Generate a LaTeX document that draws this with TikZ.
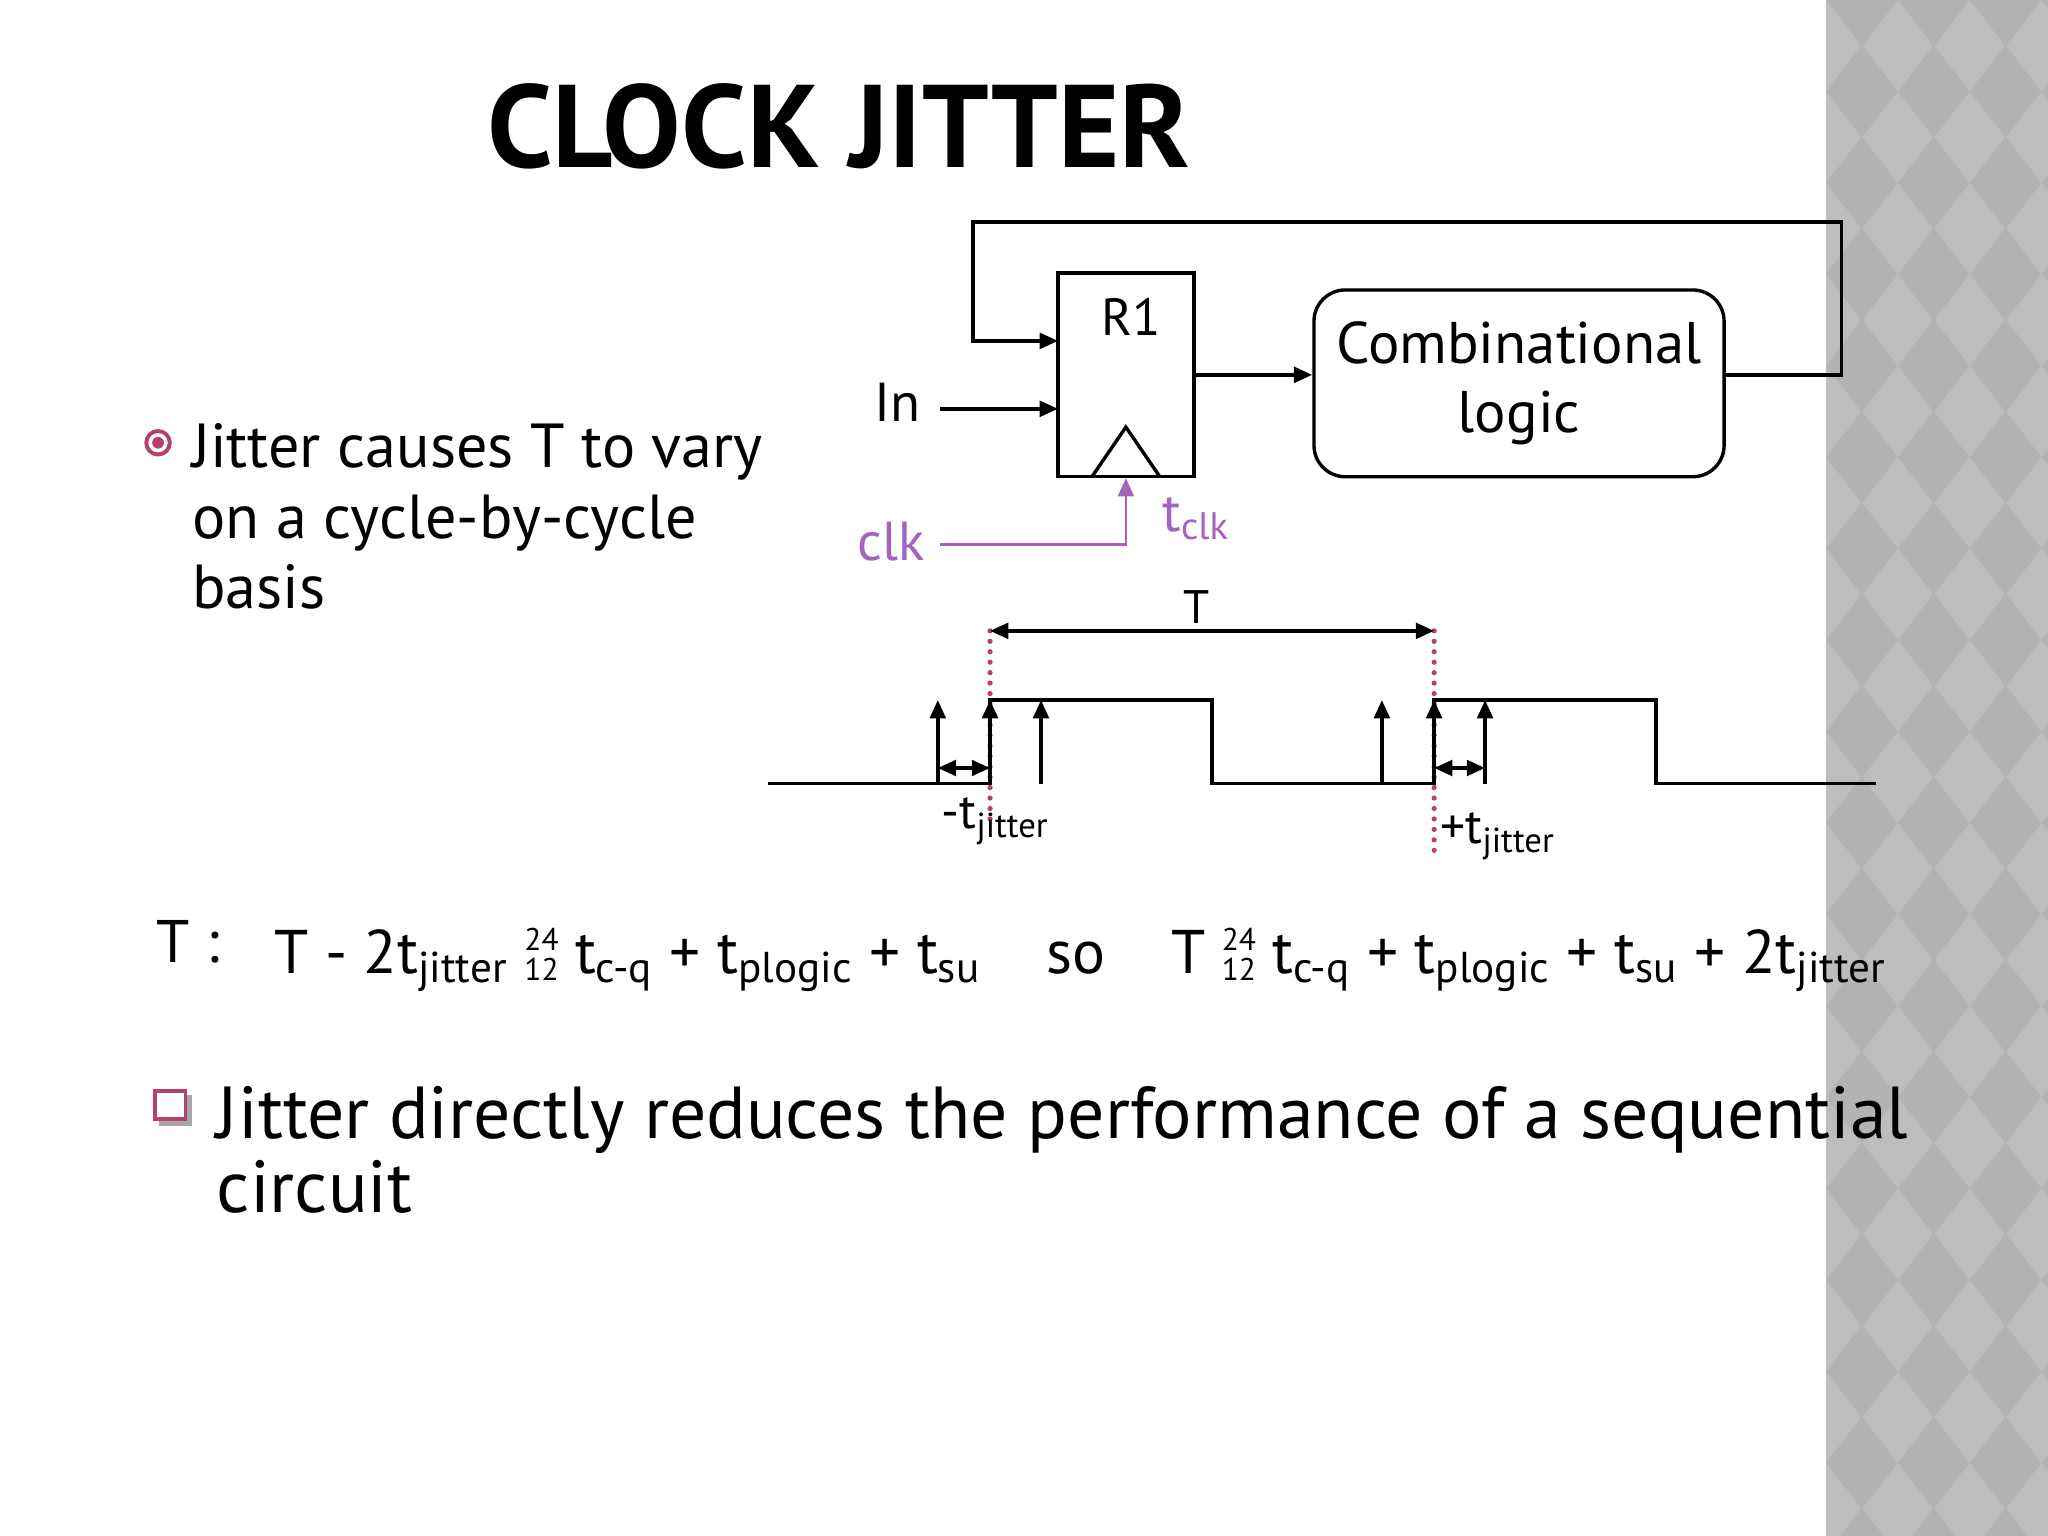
\documentclass[tikz,border=0pt]{standalone}
\usepackage{fontspec}
\setmainfont{PT Sans}
\usetikzlibrary{arrows.meta}
\definecolor{mag}{HTML}{B4416F}
\definecolor{purp}{HTML}{A563BE}
\definecolor{gry}{HTML}{B3B3B3}
\definecolor{gryl}{HTML}{BDBDBD}
\newcommand{\brokengeq}{\raisebox{-0.25ex}{\shortstack{\fontsize{12}{10}\selectfont 24\\\fontsize{12}{10}\selectfont 12}}}
\tikzset{w/.style={line width=1.3pt},
 arr/.style={w,-{Triangle[length=7pt,width=6pt]}},
 darr/.style={w,{Triangle[length=7pt,width=6pt]}-{Triangle[length=7pt,width=6pt]}},
 dots/.style={mag,line width=2pt,dash pattern=on 0pt off 4pt,line cap=round}}
\begin{document}
\begin{tikzpicture}[x=0.5pt,y=-0.5pt]
\useasboundingbox (0,0) rectangle (1568,1176);
% background stripe
\fill[gry] (1398,0) rectangle (1568,1176);
\begin{scope}
\clip (1398,0) rectangle (1568,1176);
\foreach \i in {0,...,3}{\foreach \j in {0,...,17}{
 \fill[gryl] ({1398+\i*55},{\j*70}) -- ++(27,35) -- ++(-27,35) -- ++(-27,-35) -- cycle;}}
\end{scope}
% title
\node[anchor=base west,font=\fontsize{45}{50}\selectfont\bfseries] (title) at (366,128) {CLOCK JITTER};
% bullet 1
\draw[mag,line width=1.5pt] (121,339) circle (9);
\fill[mag] (121,339) circle (4.5);
\node[anchor=base west,font=\fontsize{23.8}{27}\selectfont] (b1) at (140,358) {Jitter causes T to vary};
\node[anchor=base west,font=\fontsize{23.8}{27}\selectfont] (b1b) at (140,412) {on a cycle-by-cycle};
\node[anchor=base west,font=\fontsize{23.8}{27}\selectfont] (b1c) at (140,466) {basis};
% circuit
\node[draw,w,minimum width=52pt,minimum height=78pt,inner sep=0] (r1) at (862,287) {};
\node[font=\fontsize{20}{24}\selectfont] (r1t) at (866,243) {R1};
\draw[w] (836,365) -- (862,327) -- (888,365);
\node[draw,w,rounded corners=12pt,minimum width=157pt,minimum height=71.5pt,align=center,font=\fontsize{22.5}{26.5}\selectfont] (cl) at (1163,293.5) {Combinational\\logic};
\coordinate (fb1) at (1410,287);
\coordinate (fb2) at (1410,170);
\coordinate (fb3) at (745,170);
\coordinate (fb4) at (745,261);
\coordinate (r1in) at (810,261);
\draw[arr] (cl.east |- fb1) -- (fb1) -- (fb2) -- (fb3) -- (fb4) -- (r1in);
\draw[arr] (914,287) -- (cl.west |- 0,287);
\node[font=\fontsize{21}{24}\selectfont] (in) at (687,308) {In};
\coordinate (inw) at (720,313);
\draw[arr] (inw) -- (810,313);
\node[purp,font=\fontsize{21}{24}\selectfont] (clk) at (682,415) {clk};
\coordinate (clkw) at (720,417);
\coordinate (clkc) at (862,417);
\draw[arr,purp,line width=1pt] (clkw) -- (clkc) -- (862,366);
\node[purp,anchor=west,font=\fontsize{21}{24}\selectfont] (tclk) at (883,397) {t\textsubscript{clk}};
% timing
\node[font=\fontsize{18}{22}\selectfont] (Tl) at (916,465) {T};
\draw[dots] (758,483) -- (758,628);
\draw[dots] (1098,483) -- (1098,655);
\coordinate (ta) at (758,483);
\coordinate (tb) at (1098,483);
\draw[darr] (ta) -- (tb);
\draw[w] (588,600) -- (758,600) -- (758,536) -- (928,536) -- (928,600) -- (1098,600) -- (1098,536) -- (1268,536) -- (1268,600) -- (1436,600);
\foreach \x in {718,758,797,1058,1098,1137}{\draw[arr] (\x,600) -- (\x,536);}
\draw[darr] (718,588) -- (758,588);
\draw[darr] (1098,588) -- (1137,588);
\node[anchor=base west,font=\fontsize{19}{22}\selectfont] (mj) at (714,634) {-t\textsubscript{jitter}};
\node[anchor=base west,font=\fontsize{19}{22}\selectfont] (pj) at (1096,646) {+t\textsubscript{jitter}};
% equation
\node[anchor=base west,font=\fontsize{23}{28}\selectfont] (eq0) at (113,737) {T :};
\node[anchor=base west,font=\fontsize{23.6}{28}\selectfont] (eq) at (203,745) {T - 2t\textsubscript{jitter} \brokengeq{} t\textsubscript{c-q} + t\textsubscript{plogic} + t\textsubscript{su}\hspace{0.8em} so\hspace{0.8em} T \brokengeq{} t\textsubscript{c-q} + t\textsubscript{plogic} + t\textsubscript{su} + 2t\textsubscript{jitter}};
% bullet 2
\fill[gray!70] (122,838) rectangle (147,862);
\draw[mag,fill=white,line width=1.5pt] (119,835) rectangle (142,857);
\node[anchor=base west,font=\fontsize{28.2}{30}\selectfont] (b2) at (159,872) {Jitter directly reduces the performance of a sequential};
\node[anchor=base west,font=\fontsize{28.2}{30}\selectfont] (b2b) at (159,928) {circuit};
\end{tikzpicture}
\end{document}
